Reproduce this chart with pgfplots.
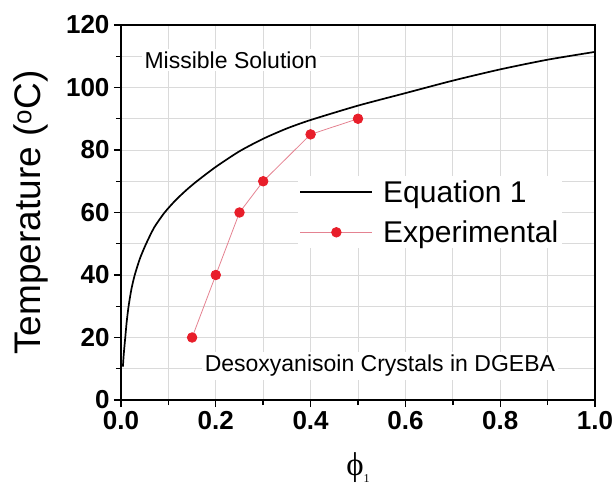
\documentclass[border=0pt]{standalone}
\usepackage{pgfplots}
\pgfplotsset{compat=1.18}
\usepackage{fontspec}
\setmainfont{Liberation Sans}
\newfontfamily\serif{Liberation Serif}
\definecolor{ptred}{RGB}{232,30,42}
\definecolor{lnred}{RGB}{228,130,145}
\definecolor{gridgray}{RGB}{218,218,218}
\begin{document}
\begin{tikzpicture}
\begin{axis}[
  at={(0pt,0pt)}, anchor=south west,
  scale only axis, width=474pt, height=375pt,
  xmin=0, xmax=1, ymin=0, ymax=120,
  xtick={0,0.2,...,1.0}, ytick={0,20,...,120},
  minor x tick num=1, minor y tick num=1,
  xmajorgrids=true, ymajorgrids=true, xminorgrids=true, yminorgrids=true,
  major grid style={draw=gridgray, line width=0.9pt},
  minor grid style={draw=gridgray, line width=0.9pt},
  tick pos=left, tick align=outside,
  major tick length=7pt, minor tick length=5pt,
  major tick style={black, line width=1.4pt},
  minor tick style={black, line width=1.4pt},
  axis line style={line width=1.8pt},
  /pgf/number format/assume math mode=true,
  tick label style={font=\fontsize{26}{26}\selectfont\bfseries},
  xticklabel style={/pgf/number format/fixed, /pgf/number format/fixed zerofill, /pgf/number format/precision=1, yshift=-1pt},
  yticklabel style={xshift=-1pt},
  xlabel={{\serif ϕ\raisebox{-7pt}{\fontsize{12}{12}\selectfont 1}}},
  xlabel style={font=\fontsize{33}{33}\selectfont, at={(axis description cs:0.5,-0.18)}, anchor=center},
  ylabel={Temperature (\textsuperscript{o}C)},
  ylabel style={font=\fontsize{37}{37}\selectfont, at={(axis description cs:-0.19,0.5)}, anchor=center},
  legend cell align=left,
  legend style={at={(axis cs:0.372,71.6)}, anchor=north west, draw=none, fill=white,
    font=\fontsize{30}{34}\selectfont, inner sep=2pt, row sep=13pt,
    /tikz/every odd column/.append style={column sep=8pt}},
  legend image code/.code={\draw[mark repeat=2,mark phase=2,#1] plot coordinates {(0pt,0pt)(36pt,0pt)(72pt,0pt)};},
  clip=true,
]
\addplot[black, line width=1.7pt, smooth, tension=0.4] coordinates {
(0.004,10.7)(0.006,15)(0.009,20)(0.012,25)(0.016,30)(0.022,35.5)(0.029,40)(0.04,45.3)(0.053,50)(0.07,55.2)(0.092,60)(0.115,63.9)(0.138,67.2)(0.16,70.0)(0.2,74.6)(0.25,79.6)(0.3,83.6)(0.35,86.9)(0.4,89.6)(0.5,94.2)(0.6,98.2)(0.7,102.2)(0.8,105.8)(0.9,108.9)(1.0,111.4)
};
\addlegendentry{Equation 1}
\addplot[lnred, line width=0.8pt, mark=*, mark size=4.8pt, mark options={ptred, fill=ptred, draw=ptred}] coordinates {
(0.15,20)(0.2,40)(0.25,60)(0.3,70)(0.4,85)(0.5,90)
};
\addlegendentry{Experimental}
\node[anchor=west, fill=white, inner sep=3pt, font=\fontsize{23}{23}\selectfont] at (axis cs:0.043,108.8) {Missible Solution};
\node[anchor=west, fill=white, inner sep=3pt, font=\fontsize{23}{23}\selectfont] at (axis cs:0.17,10.9) {Desoxyanisoin Crystals in DGEBA};
\end{axis}
\pgfresetboundingbox
\path[use as bounding box] (-121pt,-85pt) rectangle (495pt,400pt);
\end{tikzpicture}
\end{document}
